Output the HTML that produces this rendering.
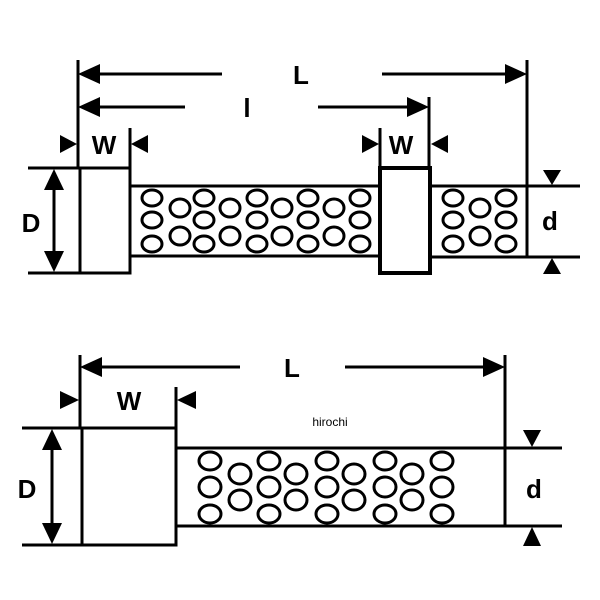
<!DOCTYPE html>
<html><head><style>body{margin:0;background:#fff}svg{display:block}</style></head><body>
<svg width="600" height="600" viewBox="0 0 600 600" xmlns="http://www.w3.org/2000/svg" font-family="Liberation Sans, sans-serif">
<g stroke="#000" stroke-width="3" fill="none">
<!-- top diagram -->
<line x1="78" y1="60" x2="78" y2="168"/>
<line x1="527" y1="60" x2="527" y2="186"/>
<line x1="82" y1="74" x2="222" y2="74"/>
<line x1="382" y1="74" x2="522" y2="74"/>
<line x1="82" y1="107" x2="185" y2="107"/>
<line x1="318" y1="107" x2="425" y2="107"/>
<line x1="429" y1="97" x2="429" y2="168"/>
<line x1="130" y1="128" x2="130" y2="168"/>
<line x1="380" y1="128" x2="380" y2="168"/>
<line x1="28" y1="168" x2="80" y2="168"/>
<line x1="28" y1="273" x2="80" y2="273"/>
<line x1="54" y1="180" x2="54" y2="262"/>
<rect x="80" y="168" width="50" height="105"/>
<rect x="380" y="168" width="50" height="105" stroke-width="4"/>
<line x1="130" y1="186" x2="380" y2="186"/>
<line x1="130" y1="256" x2="380" y2="256"/>
<line x1="430" y1="186" x2="580" y2="186"/>
<line x1="430" y1="257" x2="580" y2="257"/>
<line x1="527" y1="186" x2="527" y2="257"/>
<!-- bottom diagram -->
<line x1="80" y1="355" x2="80" y2="428"/>
<line x1="505" y1="355" x2="505" y2="526"/>
<line x1="84" y1="367" x2="240" y2="367"/>
<line x1="345" y1="367" x2="500" y2="367"/>
<line x1="176" y1="387" x2="176" y2="428"/>
<line x1="22" y1="428" x2="82" y2="428"/>
<line x1="22" y1="545" x2="82" y2="545"/>
<line x1="52" y1="440" x2="52" y2="533"/>
<rect x="82" y="428" width="94" height="117"/>
<line x1="176" y1="448" x2="562" y2="448"/>
<line x1="176" y1="526" x2="562" y2="526"/>
</g>
<g fill="#000">
<polygon points="78,74 100,64 100,84"/>
<polygon points="527,74 505,64 505,84"/>
<polygon points="78,107 100,97 100,117"/>
<polygon points="429,107 407,97 407,117"/>
<polygon points="77,144 60,135 60,153"/>
<polygon points="131,144 148,135 148,153"/>
<polygon points="379,144 362,135 362,153"/>
<polygon points="431,144 448,135 448,153"/>
<polygon points="54,169 44,190 64,190"/>
<polygon points="54,272 44,251 64,251"/>
<polygon points="552,185 543,170 561,170"/>
<polygon points="552,258 543,274 561,274"/>
<polygon points="80,367 102,357 102,377"/>
<polygon points="505,367 483,357 483,377"/>
<polygon points="79,400 60,391 60,409"/>
<polygon points="177,400 196,391 196,409"/>
<polygon points="52,429 42,450 62,450"/>
<polygon points="52,544 42,523 62,523"/>
<polygon points="532,447 523,430 541,430"/>
<polygon points="532,527 523,546 541,546"/>
</g>
<g stroke="#000" stroke-width="3" fill="#fff">
<ellipse cx="152" cy="198" rx="10" ry="8"/><ellipse cx="152" cy="220" rx="10" ry="8"/><ellipse cx="152" cy="244" rx="10" ry="8"/>
<ellipse cx="204" cy="198" rx="10" ry="8"/><ellipse cx="204" cy="220" rx="10" ry="8"/><ellipse cx="204" cy="244" rx="10" ry="8"/>
<ellipse cx="257" cy="198" rx="10" ry="8"/><ellipse cx="257" cy="220" rx="10" ry="8"/><ellipse cx="257" cy="244" rx="10" ry="8"/>
<ellipse cx="308" cy="198" rx="10" ry="8"/><ellipse cx="308" cy="220" rx="10" ry="8"/><ellipse cx="308" cy="244" rx="10" ry="8"/>
<ellipse cx="360" cy="198" rx="10" ry="8"/><ellipse cx="360" cy="220" rx="10" ry="8"/><ellipse cx="360" cy="244" rx="10" ry="8"/>
<ellipse cx="180" cy="208" rx="10" ry="9"/><ellipse cx="180" cy="236" rx="10" ry="9"/>
<ellipse cx="230" cy="208" rx="10" ry="9"/><ellipse cx="230" cy="236" rx="10" ry="9"/>
<ellipse cx="282" cy="208" rx="10" ry="9"/><ellipse cx="282" cy="236" rx="10" ry="9"/>
<ellipse cx="334" cy="208" rx="10" ry="9"/><ellipse cx="334" cy="236" rx="10" ry="9"/>
<ellipse cx="453" cy="198" rx="10" ry="8"/><ellipse cx="453" cy="220" rx="10" ry="8"/><ellipse cx="453" cy="244" rx="10" ry="8"/>
<ellipse cx="506" cy="198" rx="10" ry="8"/><ellipse cx="506" cy="220" rx="10" ry="8"/><ellipse cx="506" cy="244" rx="10" ry="8"/>
<ellipse cx="480" cy="208" rx="10" ry="9"/><ellipse cx="480" cy="236" rx="10" ry="9"/>
<ellipse cx="210" cy="461" rx="11" ry="9"/><ellipse cx="210" cy="487" rx="11" ry="10"/><ellipse cx="210" cy="514" rx="11" ry="9"/>
<ellipse cx="269" cy="461" rx="11" ry="9"/><ellipse cx="269" cy="487" rx="11" ry="10"/><ellipse cx="269" cy="514" rx="11" ry="9"/>
<ellipse cx="327" cy="461" rx="11" ry="9"/><ellipse cx="327" cy="487" rx="11" ry="10"/><ellipse cx="327" cy="514" rx="11" ry="9"/>
<ellipse cx="385" cy="461" rx="11" ry="9"/><ellipse cx="385" cy="487" rx="11" ry="10"/><ellipse cx="385" cy="514" rx="11" ry="9"/>
<ellipse cx="442" cy="461" rx="11" ry="9"/><ellipse cx="442" cy="487" rx="11" ry="10"/><ellipse cx="442" cy="514" rx="11" ry="9"/>
<ellipse cx="240" cy="474" rx="11" ry="10"/><ellipse cx="240" cy="500" rx="11" ry="10"/>
<ellipse cx="296" cy="474" rx="11" ry="10"/><ellipse cx="296" cy="500" rx="11" ry="10"/>
<ellipse cx="354" cy="474" rx="11" ry="10"/><ellipse cx="354" cy="500" rx="11" ry="10"/>
<ellipse cx="412" cy="474" rx="11" ry="10"/><ellipse cx="412" cy="500" rx="11" ry="10"/>
</g>
<g font-weight="bold" font-size="26" fill="#000" text-anchor="middle">
<text x="301" y="84">L</text>
<text x="247" y="117">l</text>
<text x="104" y="154">W</text>
<text x="401" y="154">W</text>
<text x="31" y="232">D</text>
<text x="550" y="230">d</text>
<text x="292" y="377">L</text>
<text x="129" y="410">W</text>
<text x="27" y="498">D</text>
<text x="534" y="498">d</text>
</g>
<text x="330" y="426" font-size="12" text-anchor="middle" fill="#000">hirochi</text>
</svg>
</body></html>
